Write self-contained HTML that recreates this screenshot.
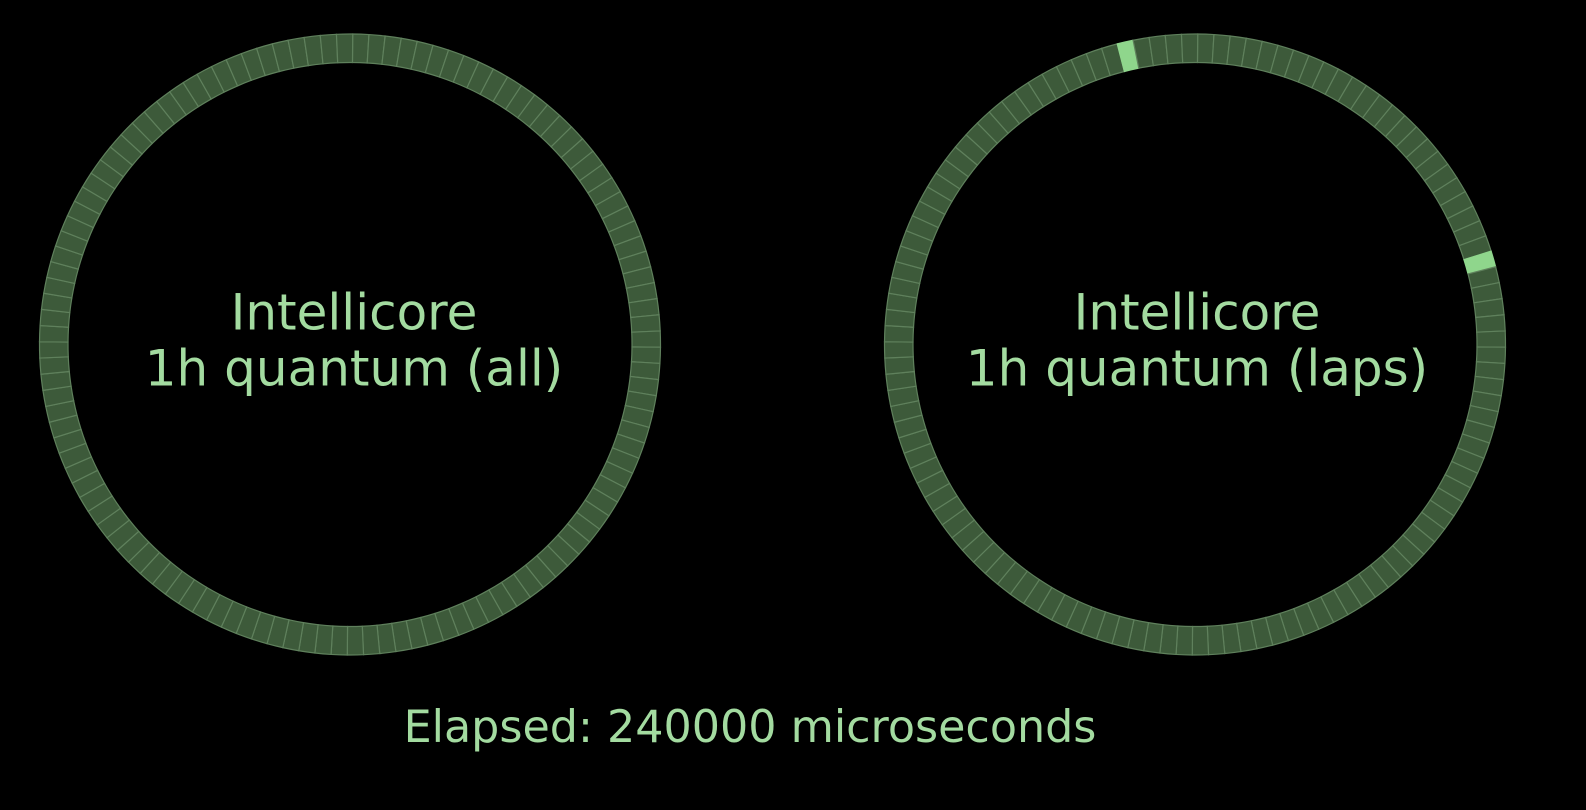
<!DOCTYPE html>
<html><head><meta charset="utf-8">
<style>
html,body{margin:0;padding:0;background:#000;width:1586px;height:810px;overflow:hidden}
svg{display:block}
text{font-family:"DejaVu Sans","Liberation Sans",sans-serif;fill:#a3dba0}
</style></head>
<body>
<svg id="chart" width="1586" height="810" viewBox="0 0 1586 810">
<g id="rings"></g>
<text x="354" y="329.5" font-size="50" text-anchor="middle">Intellicore</text>
<text x="354" y="385.5" font-size="50" text-anchor="middle">1h quantum (all)</text>
<text x="1197" y="329.5" font-size="50" text-anchor="middle">Intellicore</text>
<text x="1197" y="385.5" font-size="50" text-anchor="middle">1h quantum (laps)</text>
<text x="750" y="742" font-size="44.4" text-anchor="middle">Elapsed: 240000 microseconds</text>
</svg>
<script>
const segmentCount = 120;
const ringNames = ["all", "laps"];
const activeAll = [];
const activeLaps = [115, 24];

const centers = [[350, 344.5], [1195, 344.5]];
const rOuter = 310.5, rInner = 282, offsetDeg = 0.5;
const NS = "http://www.w3.org/2000/svg";
const g = document.getElementById("rings");
function pt(cx, cy, r, deg) {
  const a = deg * Math.PI / 180;
  return [cx + r * Math.sin(a), cy - r * Math.cos(a)];
}
[activeAll, activeLaps].forEach((active, ri) => {
  const [cx, cy] = centers[ri];
  const step = 360 / segmentCount;
  for (let k = 0; k < segmentCount; k++) {
    const a0 = offsetDeg + k * step, a1 = a0 + step;
    const p1 = pt(cx, cy, rOuter, a0), p2 = pt(cx, cy, rOuter, a1);
    const p3 = pt(cx, cy, rInner, a1), p4 = pt(cx, cy, rInner, a0);
    const d = `M${p1[0]},${p1[1]} A${rOuter},${rOuter} 0 0 1 ${p2[0]},${p2[1]} L${p3[0]},${p3[1]} A${rInner},${rInner} 0 0 0 ${p4[0]},${p4[1]} Z`;
    const path = document.createElementNS(NS, "path");
    path.setAttribute("d", d);
    const on = active.includes(k);
    path.setAttribute("fill", on ? "#8fd68c" : "#3d5a3a");
    path.setAttribute("stroke", on ? "#8fd68c" : "#5f805c");
    path.setAttribute("stroke-width", "1.2");
    
    
    g.appendChild(path);
  }
});
</script>
</body></html>
